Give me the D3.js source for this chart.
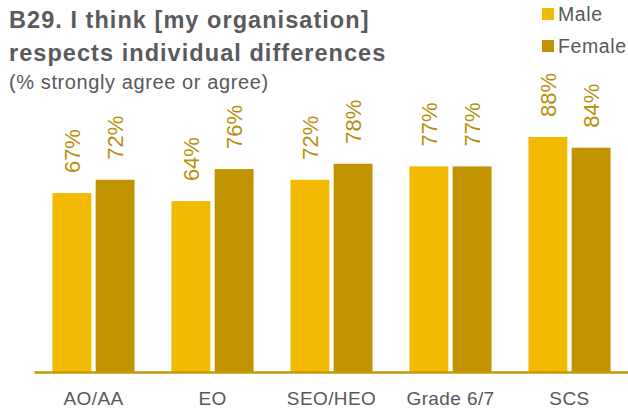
<!DOCTYPE html>
<html>
<head>
<meta charset="utf-8">
<script src="https://cdn.jsdelivr.net/npm/d3@7"></script>
<style>
  html, body { margin: 0; padding: 0; background: #fff; }
  svg { display: block; font-family: "Liberation Sans", Arial, Helvetica, sans-serif; }
</style>
</head>
<body>
<svg id="chart" width="628" height="410"></svg>
<script>
// Staff grades and the share (%) who strongly agree or agree
const categories = ["AO/AA", "EO", "SEO/HEO", "Grade 6/7", "SCS"];
const seriesNames = ["Male", "Female"];
const maleValues = [67, 64, 72, 77, 88];
const femaleValues = [72, 76, 78, 77, 84];
const titleLines = ["B29. I think [my organisation]", "respects individual differences"];
const subtitle = "(% strongly agree or agree)";

const colors = { Male: "#F2BA00", Female: "#C19300" };
const labelColor = "#B8900C";
const textColor = "#58585A";

const svg = d3.select("#chart");
const W = 628, H = 410;
const margin = { left: 34, right: -1, top: 105, bottom: 38 };
const plotBottom = H - margin.bottom;

const x = d3.scaleBand()
  .domain(categories)
  .range([margin.left, W - margin.right])
  .paddingInner(0.31)
  .paddingOuter(0.155);

const xs = d3.scaleBand()
  .domain(seriesNames)
  .range([0, x.bandwidth()])
  .paddingInner(0.1);

const y = d3.scaleLinear().domain([0, 100]).range([plotBottom, margin.top]);

const rows = categories.map((c, i) => ({
  category: c,
  values: [
    { series: "Male", value: maleValues[i] },
    { series: "Female", value: femaleValues[i] }
  ]
}));

// Bars
const groups = svg.append("g").selectAll("g")
  .data(rows)
  .join("g")
  .attr("transform", d => `translate(${x(d.category)},0)`);

groups.selectAll("rect")
  .data(d => d.values)
  .join("rect")
  .attr("x", d => xs(d.series))
  .attr("width", xs.bandwidth())
  .attr("y", d => y(d.value))
  .attr("height", d => y(0) - y(d.value))
  .attr("fill", d => colors[d.series]);

// Value labels, rotated
groups.selectAll("text.val")
  .data(d => d.values)
  .join("text")
  .attr("class", "val")
  .attr("transform", d => {
    const cx = xs(d.series) + xs.bandwidth() / 2 + 8;
    const cy = y(d.value) - 20;
    return `translate(${cx},${cy}) rotate(-90)`;
  })
  .attr("text-anchor", "start")
  .attr("fill", labelColor)
  .style("font-size", "22px")
  .text(d => d.value + "%");

// X axis
const xAxis = svg.append("g")
  .attr("transform", `translate(0,${plotBottom})`)
  .call(d3.axisBottom(x).tickSize(0).tickPadding(20));
xAxis.select(".domain").attr("stroke", "#C29A0A").attr("stroke-width", 2.5);
xAxis.selectAll("text")
  .attr("fill", textColor)
  .style("font-size", "19px")
  .style("letter-spacing", "0.4px")
  .style("font-family", "'Liberation Sans', Arial, sans-serif");

// Title
svg.append("g").selectAll("text")
  .data(titleLines)
  .join("text")
  .attr("x", 9)
  .attr("y", (d, i) => 28 + i * 33)
  .attr("fill", "#5A5A5C")
  .style("font-size", "23.5px")
  .style("font-weight", "bold")
  .style("letter-spacing", "1.05px")
  .text(d => d);

svg.append("text")
  .attr("x", 9)
  .attr("y", 89)
  .attr("fill", textColor)
  .style("font-size", "20px")
  .style("letter-spacing", "0.6px")
  .text(subtitle);

// Legend
const legend = svg.append("g").selectAll("g")
  .data(seriesNames)
  .join("g")
  .attr("transform", (d, i) => `translate(542,${8 + i * 32})`);
legend.append("rect")
  .attr("width", 12).attr("height", 12)
  .attr("fill", d => colors[d]);
legend.append("text")
  .attr("x", 16).attr("y", 13)
  .attr("fill", textColor)
  .style("font-size", "19.5px")
  .style("letter-spacing", "0.6px")
  .text(d => d);
</script>
</body>
</html>
